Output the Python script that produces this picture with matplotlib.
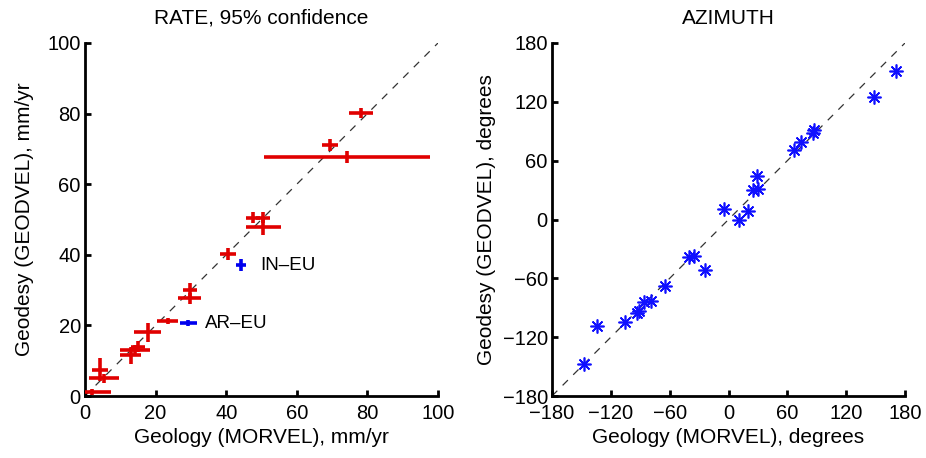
import matplotlib
matplotlib.use("Agg")
import matplotlib.pyplot as plt
import numpy as np

plt.rcParams['font.family'] = ['Liberation Sans', 'DejaVu Sans']

# ---- RATE data (mm/yr) ----
rate_geol = [78.2, 69.4, 74.2, 47.5, 50.5, 50.5, 40.5, 29.7, 29.7, 23.4, 17.8, 14.2, 13.0, 15.0, 4.3, 5.3, 2.0]
rate_geod = [80.2, 71.1, 67.7, 50.5, 50.5, 48.0, 40.2, 30.0, 27.7, 21.2, 18.1, 13.0, 11.5, 14.0, 7.5, 5.0, 1.2]
rate_geol_err = [3.5, 2.3, 23.6, 2.0, 2.0, 5.0, 2.3, 2.0, 3.3, 3.0, 3.8, 4.3, 3.0, 2.0, 2.3, 4.2, 5.5]
rate_geod_err = [1.4, 1.7, 1.6, 1.5, 1.5, 2.5, 1.7, 2.0, 1.5, 0.9, 2.7, 1.5, 2.5, 1.5, 3.3, 1.2, 0.8]

blue_names = ['IN\u2013EU', 'AR\u2013EU']
blue_geol = [44.2, 29.2]
blue_geod = [37.1, 20.6]
blue_geol_err = [1.4, 2.4]
blue_geod_err = [1.7, 0.8]

# ---- AZIMUTH data (degrees) ----
az_geol = [171, 148, 86, 87, 74, 67, 29, 25, 30, -5, 20, 11, -40, -35, -24, -65, -86, -79, -93, -91, -106, -134, -147]
az_geod = [151, 125, 88, 91, 79, 71, 44, 30, 31, 11, 9, -1, -38, -37, -52, -68, -84, -83, -95, -93, -105, -109, -147]

rate_ticks = [0, 20, 40, 60, 80, 100]
az_ticks = [-180, -120, -60, 0, 60, 120, 180]

fig = plt.figure(figsize=(9.26, 4.58), dpi=100)
ax1 = fig.add_axes([85/926, 62/458, 353/926, 353/458])
ax2 = fig.add_axes([552/926, 62/458, 353/926, 353/458])

FS_LAB = 15
FS_TICK = 14.5
FS_TXT = 13.5
for ax in (ax1, ax2):
    for s in ('top', 'right'):
        ax.spines[s].set_visible(False)
    for s in ('left', 'bottom'):
        ax.spines[s].set_linewidth(2.0)
    ax.tick_params(direction='in', length=4, width=2, labelsize=FS_TICK)
    ax.tick_params(axis='x', pad=6)
    ax.tick_params(axis='y', pad=3)

# Left panel
ax1.plot([0, 100], [0, 100], linestyle=(0, (6, 6)), color='#333333', lw=0.9, zorder=1)
ax1.errorbar(rate_geol, rate_geod, xerr=rate_geol_err, yerr=rate_geod_err,
             fmt='none', ecolor='#e00000', elinewidth=2.6, capsize=0, zorder=3)
ax1.errorbar(blue_geol, blue_geod, xerr=blue_geol_err, yerr=blue_geod_err,
             fmt='none', ecolor='#0000ee', elinewidth=2.6, capsize=0, zorder=3)
ax1.text(49.6, blue_geod[0], blue_names[0], fontsize=FS_TXT, va='center', ha='left')
ax1.text(34.0, blue_geod[1], blue_names[1], fontsize=FS_TXT, va='center', ha='left')
ax1.set_xlim(0, 100)
ax1.set_ylim(0, 100)
ax1.set_xticks(rate_ticks)
ax1.set_yticks(rate_ticks)
ax1.set_title('RATE, 95% confidence', fontsize=FS_LAB, pad=14)
ax1.set_xlabel('Geology (MORVEL), mm/yr', fontsize=FS_LAB)
ax1.set_ylabel('Geodesy (GEODVEL), mm/yr', fontsize=FS_LAB)
ax1.xaxis.set_label_coords(0.5, -0.092)
ax1.yaxis.set_label_coords(-0.145, 0.5)

# Right panel
ax2.plot([-180, 180], [-180, 180], linestyle=(0, (6, 6)), color='#333333', lw=0.9, zorder=1)
ax2.plot(az_geol, az_geod, linestyle='none', marker=(8, 2, 0), markersize=10,
         markeredgewidth=1.2, color='#1010ff', zorder=3)
ax2.set_xlim(-180, 180)
ax2.set_ylim(-180, 180)
ax2.set_xticks(az_ticks)
ax2.set_yticks(az_ticks)
ax2.set_title('AZIMUTH', fontsize=FS_LAB, pad=14)
ax2.set_xlabel('Geology (MORVEL), degrees', fontsize=FS_LAB)
ax2.set_ylabel('Geodesy (GEODVEL), degrees', fontsize=FS_LAB)
ax2.xaxis.set_label_coords(0.5, -0.092)
ax2.yaxis.set_label_coords(-0.159, 0.5)

fig.savefig('out.png', dpi=100)
